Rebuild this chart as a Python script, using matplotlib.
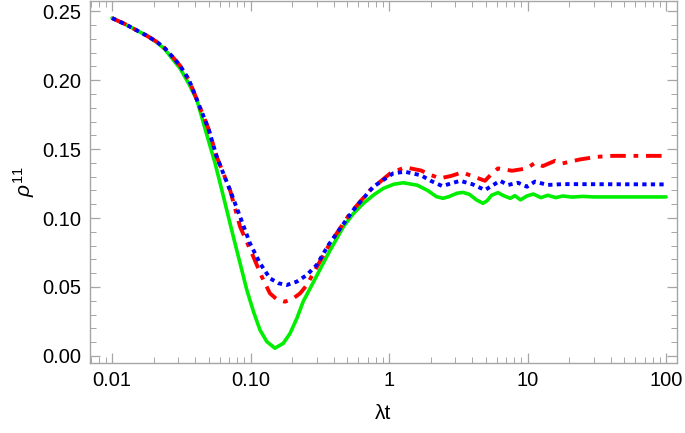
import numpy as np
import matplotlib
matplotlib.use("Agg")
import matplotlib.pyplot as plt
from matplotlib.ticker import FixedLocator, FixedFormatter, LogLocator, MultipleLocator, NullFormatter

plt.rcParams['font.family'] = ['Liberation Sans', 'DejaVu Sans']
plt.rcParams['mathtext.fontset'] = 'custom'
plt.rcParams['mathtext.rm'] = 'Liberation Sans'
plt.rcParams['mathtext.it'] = 'Liberation Sans:italic'

# green solid curve
t_green = [0.010, 0.0125, 0.015, 0.018, 0.021, 0.024, 0.027, 0.031, 0.036, 0.041,
           0.048, 0.0555, 0.062, 0.0751, 0.084, 0.094, 0.105, 0.117, 0.131, 0.150,
           0.1725, 0.193, 0.216, 0.240, 0.300, 0.365, 0.468, 0.55, 0.652, 0.78,
           0.91, 1.08, 1.27, 1.6, 1.9, 2.2, 2.45, 2.7, 3.1, 3.42, 3.8, 4.3, 4.77,
           5.1, 5.5, 6.12, 6.7, 7.5, 8.1, 8.9, 9.9, 11.0, 12.5, 14,
           16, 18, 21, 25, 30, 100]
rho_green = [0.245, 0.2405, 0.2362, 0.232, 0.2275, 0.2225, 0.216, 0.2085, 0.197, 0.1855,
             0.1614, 0.1396, 0.1203, 0.0865, 0.0672, 0.0478, 0.0321, 0.0188, 0.0104, 0.0056,
             0.0092, 0.0164, 0.0273, 0.0395, 0.058, 0.0744, 0.0937, 0.1030, 0.1106, 0.1170,
             0.1215, 0.1245, 0.1256, 0.1238, 0.1200, 0.1155, 0.1143, 0.1155, 0.1180, 0.1186, 0.1172, 0.1130, 0.1107,
             0.1125, 0.1165, 0.1184, 0.1163, 0.1143, 0.1162, 0.1132, 0.1160, 0.1174, 0.1148, 0.1165,
             0.1148, 0.1160, 0.1152, 0.1157, 0.1153, 0.1153]

# red dash-dot curve
t_red = [0.010, 0.0125, 0.015, 0.018, 0.021, 0.024, 0.027, 0.031, 0.036, 0.042,
         0.0496, 0.057, 0.0711, 0.084, 0.1047, 0.1205, 0.138, 0.1545, 0.177, 0.204,
         0.228, 0.255, 0.284, 0.375, 0.523, 0.73, 1.02, 1.3, 1.7, 2.0, 2.33, 2.8,
         3.37, 4.1, 4.93, 5.5, 6.12, 7.73, 9.9, 11.3, 12.9, 15.8, 17.8, 23.9,
         31.7, 41.4, 100]
rho_red = [0.245, 0.2405, 0.2362, 0.232, 0.2278, 0.2232, 0.2175, 0.2105, 0.200, 0.1831,
           0.165, 0.1444, 0.1203, 0.0937, 0.072, 0.0575, 0.0454, 0.0411, 0.0393, 0.0418,
           0.0454, 0.0514, 0.0600, 0.0817, 0.1034, 0.1203, 0.1324, 0.1368, 0.1345, 0.1312, 0.1288, 0.1305,
           0.1331, 0.1300, 0.1270, 0.1320, 0.1360, 0.1343, 0.1360, 0.1400, 0.1377, 0.1415, 0.1396, 0.1425,
           0.1444, 0.1451, 0.1451]

# blue dotted curve
t_blue = [0.010, 0.0125, 0.015, 0.018, 0.021, 0.024, 0.027, 0.031, 0.036, 0.042,
          0.0496, 0.057, 0.0725, 0.084, 0.099, 0.117, 0.138, 0.159, 0.182, 0.216,
          0.255, 0.300, 0.365, 0.552, 0.77, 1.07, 1.3, 1.7, 2.0, 2.42, 3.26, 4.0,
          4.93, 6.33, 7.23, 8.53, 9.9, 11.3, 14, 18, 100]
rho_blue = [0.245, 0.2405, 0.2362, 0.232, 0.2278, 0.2232, 0.2175, 0.2105, 0.200, 0.1831,
            0.165, 0.1444, 0.118, 0.101, 0.0817, 0.0672, 0.0563, 0.0527, 0.0514, 0.0539,
            0.0587, 0.0659, 0.0804, 0.1058, 0.1227, 0.1324, 0.1336, 0.1310, 0.1270, 0.1232, 0.1270, 0.1245,
            0.1203, 0.1270, 0.1240, 0.1256, 0.1227, 0.1264, 0.1240, 0.1246, 0.1244]

xticks = [0.01, 0.1, 1, 10, 100]
xticklabels = ["0.01", "0.10", "1", "10", "100"]

fig = plt.figure(figsize=(6.85, 4.33), dpi=100)
ax = fig.add_axes([0.1314, 0.1624, 0.8569, 0.8356])

ax.plot(t_green, rho_green, color='#00ee00', lw=2.6, solid_capstyle='round', solid_joinstyle='round')
ax.plot(t_red, rho_red, color='#ff0000', lw=2.8, dashes=(4, 2, 1.2, 2))
ax.plot(t_blue, rho_blue, color='#0000ff', lw=2.8, dashes=(1.1, 1.1))

ax.set_xscale('log')
ax.set_xlim(0.00693, 120)
ax.set_ylim(-0.0049, 0.2575)

ax.xaxis.set_major_locator(FixedLocator(xticks))
ax.xaxis.set_major_formatter(FixedFormatter(xticklabels))
ax.xaxis.set_minor_locator(LogLocator(base=10, subs=np.arange(2, 10)))
ax.xaxis.set_minor_formatter(NullFormatter())
ax.yaxis.set_major_locator(MultipleLocator(0.05))
ax.yaxis.set_minor_locator(MultipleLocator(0.01))
ax.yaxis.set_major_formatter(plt.FuncFormatter(lambda v, p: f"{v:.2f}"))

for s in ax.spines.values():
    s.set_color('#a6a6a6')
    s.set_linewidth(1.0)
ax.tick_params(which='both', direction='in', top=True, right=True, color='#a6a6a6',
               labelsize=14.5, labelcolor='black')
ax.tick_params(which='major', length=7, width=0.9, pad=6)
ax.tick_params(which='minor', length=4, width=0.7)

ax.set_xlabel('λt', fontsize=15, labelpad=10)
ax.set_ylabel(r'$\rho^{11}$', fontsize=15, labelpad=4)

fig.savefig('out.png', dpi=100)
